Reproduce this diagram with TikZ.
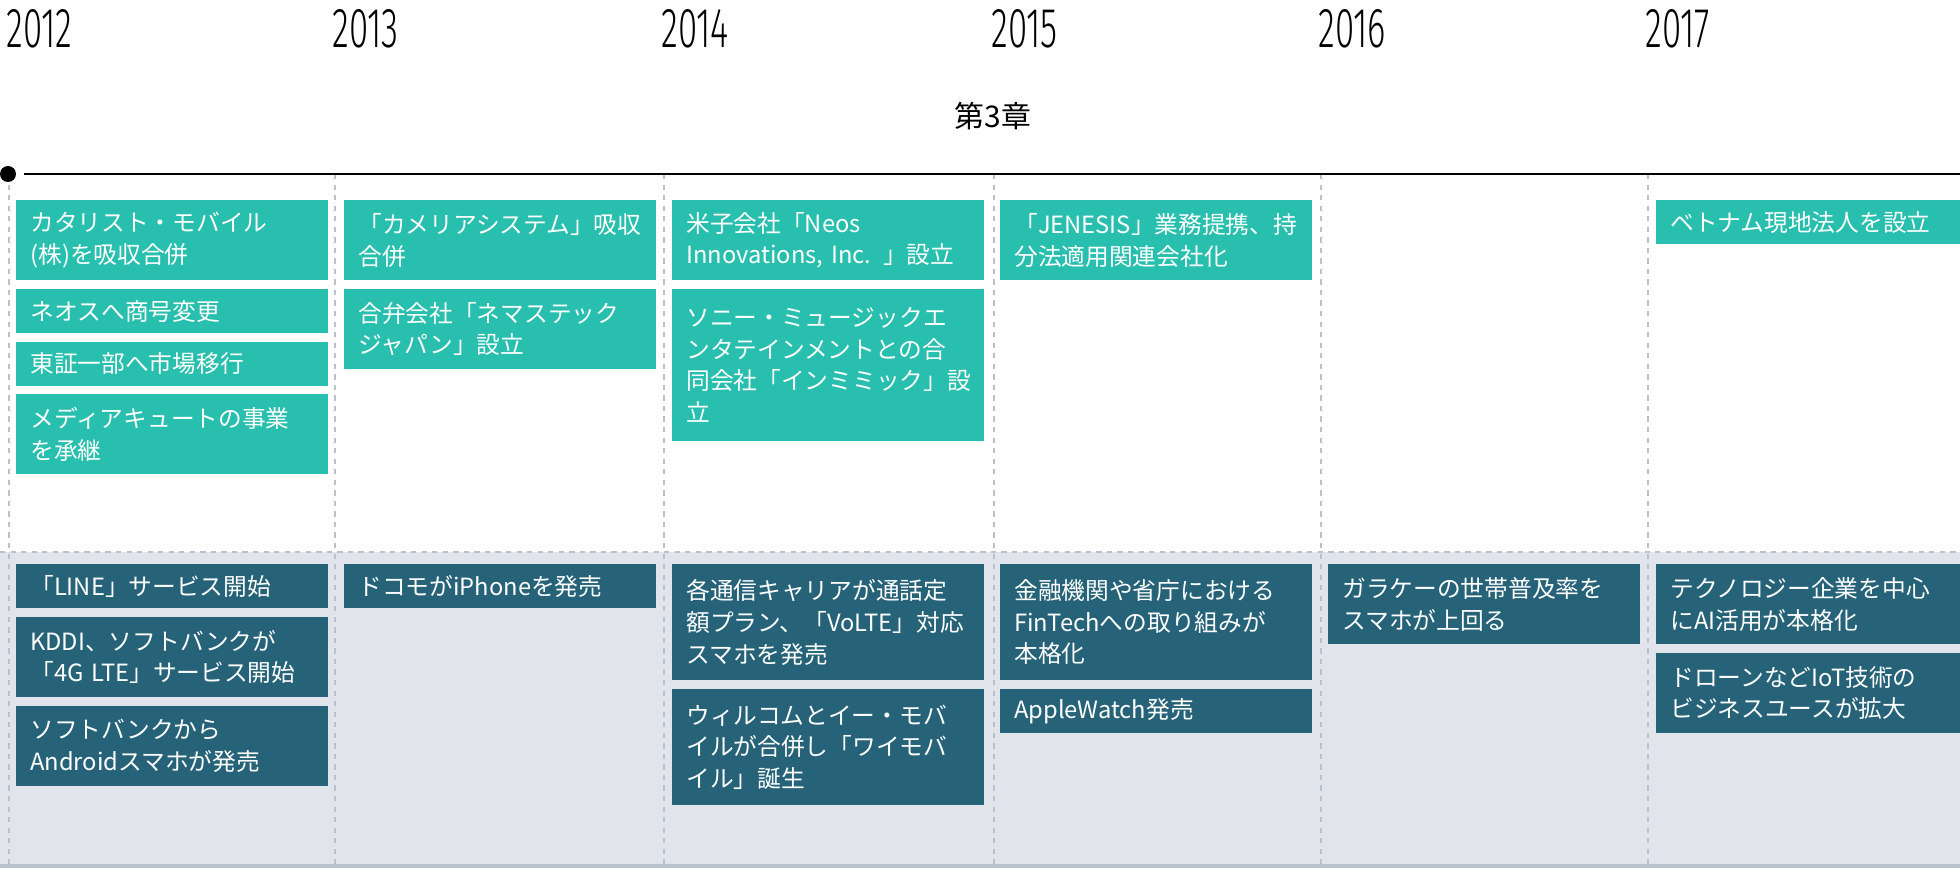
\documentclass[tikz,border=0pt]{standalone}
\usepackage{fontspec}
\setmainfont{Noto Sans CJK JP}
\newfontfamily\yearfont{Fira Sans Light}
\usetikzlibrary{positioning}
\definecolor{teal1}{RGB}{41,191,174}
\definecolor{navy1}{RGB}{38,99,120}
\definecolor{band}{RGB}{225,228,234}
\definecolor{guide}{RGB}{184,194,206}
\tikzset{
    event/.style={rectangle, anchor=north west, text width=5.68cm, inner xsep=0.28cm, inner ysep=0cm, align=left, text=white, font=\fontsize{13.5}{18}\selectfont},
    company/.style={event, fill=teal1},
    market/.style={event, fill=navy1},
    one/.style={minimum height=0.88cm},
    two/.style={minimum height=1.6cm},
    three/.style={minimum height=2.32cm},
    four/.style={minimum height=3.04cm},
    year/.style={anchor=north west, inner sep=0pt, font=\yearfont\fontsize{32}{32}\selectfont},
    guideline/.style={guide, dashed, line width=0.6pt}
}
\begin{document}
\begin{tikzpicture}[x=0.02cm, y=-0.02cm, node distance=0.16cm]
    \useasboundingbox (0,0) rectangle (1960,874);
    \clip (0,0) rectangle (1960,874);

    % Lower band
    \fill[band] (0,552) rectangle (1960,864);
    \draw[guideline] (0,552) -- (1960,552);
    \draw[guide, line width=2.5pt] (0,866) -- (1960,866);

    % Year columns
    \foreach \x/\y in {9/2012, 335/2013, 664/2014, 994/2015, 1321/2016, 1648/2017} {
        \draw[guideline] (\x,174) -- (\x,864);
        \node[year] (y\y) at (\x-3,9) {\scalebox{0.62}[1]{\y}};
    }

    % Chapter and time line
    \node[font=\fontsize{17}{17}\selectfont] (chap) at (993,116) {第3章};
    \node[circle, fill=black, inner sep=0pt, minimum size=0.32cm] (start) at (8,174) {};
    \coordinate (stop) at (1960,174);
    \draw[line width=1.6pt] (24,174) -- (stop);

    % Company events
    \node[company, two] (a1) at (16,200) {カタリスト・モバイル\\(株)を吸収合併};
    \node[company, one, below=of a1.south west, anchor=north west] (a2) {ネオスへ商号変更};
    \node[company, one, below=of a2.south west, anchor=north west] (a3) {東証一部へ市場移行};
    \node[company, two, below=of a3.south west, anchor=north west] (a4) {メディアキュートの事業\\を承継};
    \node[company, two] (b1) at (344,200) {「カメリアシステム」吸収\\合併};
    \node[company, two, below=of b1.south west, anchor=north west] (b2) {合弁会社「ネマステック\\ジャパン」設立};
    \node[company, two] (c1) at (672,200) {米子会社「Neos\\Innovations, Inc. 」設立};
    \node[company, four, below=of c1.south west, anchor=north west] (c2) {ソニー・ミュージックエ\\ンタテインメントとの合\\同会社「インミミック」設\\立};
    \node[company, two] (d1) at (1000,200) {「JENESIS」業務提携、持\\分法適用関連会社化};
    \node[company, one] (f1) at (1656,200) {ベトナム現地法人を設立};

    % Market events
    \node[market, one] (p1) at (16,564) {「LINE」サービス開始};
    \node[market, two, below=of p1.south west, anchor=north west] (p2) {KDDI、ソフトバンクが\\「4G LTE」サービス開始};
    \node[market, two, below=of p2.south west, anchor=north west] (p3) {ソフトバンクから\\Androidスマホが発売};
    \node[market, one] (q1) at (344,564) {ドコモがiPhoneを発売};
    \node[market, three] (r1) at (672,564) {各通信キャリアが通話定\\額プラン、「VoLTE」対応\\スマホを発売};
    \node[market, three, below=of r1.south west, anchor=north west] (r2) {ウィルコムとイー・モバ\\イルが合併し「ワイモバ\\イル」誕生};
    \node[market, three] (s1) at (1000,564) {金融機関や省庁における\\FinTechへの取り組みが\\本格化};
    \node[market, one, below=of s1.south west, anchor=north west] (s2) {AppleWatch発売};
    \node[market, two] (t1) at (1328,564) {ガラケーの世帯普及率を\\スマホが上回る};
    \node[market, two] (u1) at (1656,564) {テクノロジー企業を中心\\にAI活用が本格化};
    \node[market, two, below=of u1.south west, anchor=north west] (u2) {ドローンなどIoT技術の\\ビジネスユースが拡大};
\end{tikzpicture}
\end{document}
